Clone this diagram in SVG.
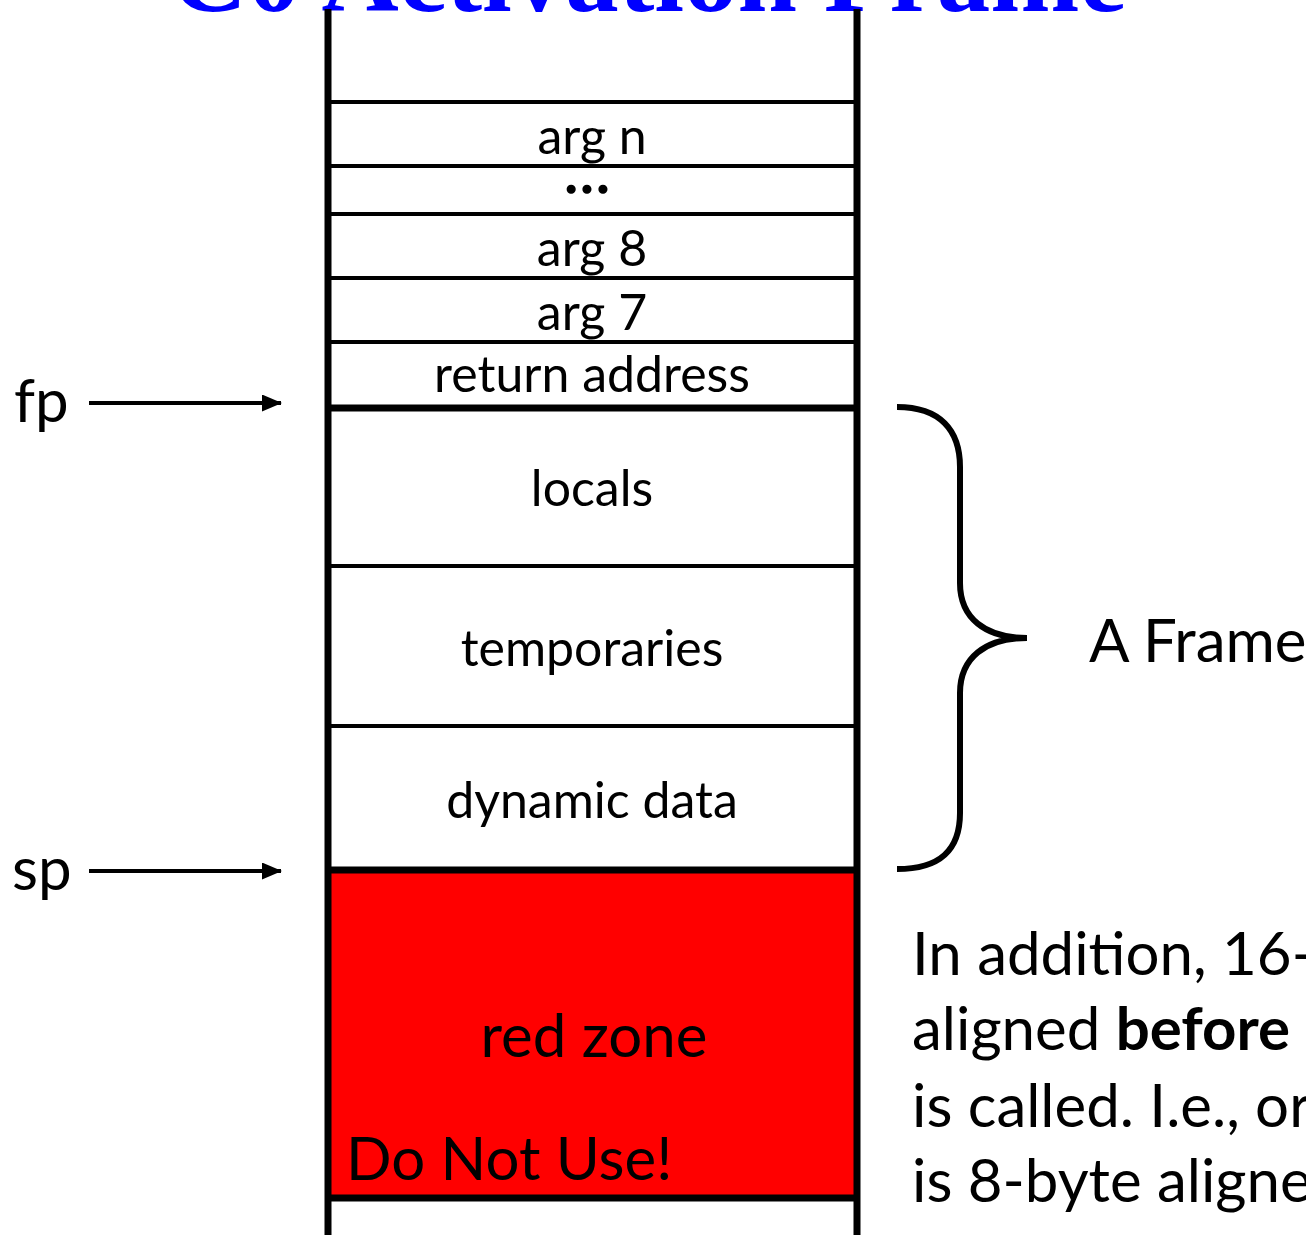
<svg xmlns="http://www.w3.org/2000/svg" width="1306" height="1235" viewBox="0 0 1306 1235">
  <style>
    .lbl { font-family: "Lato", "Liberation Sans", sans-serif; font-size: 50px; fill: #000; text-anchor: middle; }
    .big { font-family: "Lato", "Liberation Sans", sans-serif; font-size: 60px; fill: #000; }
    .sep { stroke: #000; stroke-width: 4; }
    .thick { stroke: #000; stroke-width: 7; }
    .arrow { stroke: #000; stroke-width: 4; fill: none; }
    .title { font-family: "Liberation Serif", "Times New Roman", serif; font-weight: bold; font-size: 107px; fill: #0000ff; }
  </style>
  <defs>
    <marker id="head" viewBox="0 0 20 17" refX="19" refY="8.5" markerWidth="20" markerHeight="17" markerUnits="userSpaceOnUse" orient="auto">
      <path d="M0,0 L20,8.5 L0,17 z" fill="#000"/>
    </marker>
  </defs>
  <rect width="1306" height="1235" fill="#fff"/>

  <!-- title, partly above the top edge -->
  <text class="title" x="170" y="11">C0 Activation Frame</text>

  <!-- stack cells -->
  <g id="cell-arg-n"><text class="lbl" x="592" y="154">arg n</text></g>
  <g id="cell-dots"><text class="lbl" x="589" y="193" font-size="58" font-weight="bold" letter-spacing="4" stroke="#000" stroke-width="1.5">...</text></g>
  <g id="cell-arg-8"><text class="lbl" x="592" y="266">arg 8</text></g>
  <g id="cell-arg-7"><text class="lbl" x="592" y="330">arg 7</text></g>
  <g id="cell-return"><text class="lbl" x="592" y="392">return address</text></g>
  <g id="cell-locals"><text class="lbl" x="592" y="506">locals</text></g>
  <g id="cell-temporaries"><text class="lbl" x="592" y="666">temporaries</text></g>
  <g id="cell-dynamic"><text class="lbl" x="592" y="818">dynamic data</text></g>
  <g id="cell-redzone">
    <rect x="330" y="870" width="524" height="328" fill="#ff0000"/>
    <text class="big" x="594" y="1057" text-anchor="middle">red zone</text>
    <text class="big" x="346" y="1180" font-size="59">Do Not Use!</text>
  </g>

  <!-- cell borders -->
  <g id="borders">
    <line class="sep" x1="330" y1="102" x2="854" y2="102"/>
    <line class="sep" x1="330" y1="166" x2="854" y2="166"/>
    <line class="sep" x1="330" y1="214" x2="854" y2="214"/>
    <line class="sep" x1="330" y1="278" x2="854" y2="278"/>
    <line class="sep" x1="330" y1="342" x2="854" y2="342"/>
    <line class="thick" x1="330" y1="408" x2="854" y2="408" stroke-width="6"/>
    <line class="sep" x1="330" y1="566" x2="854" y2="566"/>
    <line class="sep" x1="330" y1="726" x2="854" y2="726"/>
    <line class="thick" x1="330" y1="870" x2="854" y2="870"/>
    <line class="thick" x1="330" y1="1198" x2="854" y2="1198"/>
    <line class="thick" x1="328" y1="9" x2="328" y2="1235" stroke-width="8"/>
    <line class="thick" x1="857" y1="9" x2="857" y2="1235" stroke-width="8"/>
  </g>

  <!-- pointers -->
  <g id="fp"><text class="big" x="14" y="422">fp</text></g>
  <g id="sp"><text class="big" x="12" y="890">sp</text></g>
  <g id="frame-label"><text class="big" x="1089" y="662">A Frame</text></g>

  <g id="connectors">
    <line class="arrow" x1="89" y1="403" x2="281" y2="403" marker-end="url(#head)"/>
    <line class="arrow" x1="89" y1="871" x2="281" y2="871" marker-end="url(#head)"/>
    <path d="M897,407 C940,407 960,430 960,467 L960,583 C960,618 985,638 1027,638 C985,638 960,658 960,693 L960,813 C960,850 940,869 897,869" fill="none" stroke="#000" stroke-width="6"/>
  </g>

  <!-- note -->
  <g id="note">
    <text class="big" x="912" y="975">In addition, 16-</text>
    <text class="big" x="912" y="1050">aligned <tspan font-weight="bold">before</tspan> t</text>
    <text class="big" x="912" y="1127">is called. I.e., or</text>
    <text class="big" x="912" y="1202">is 8-byte aligne</text>
  </g>
</svg>
